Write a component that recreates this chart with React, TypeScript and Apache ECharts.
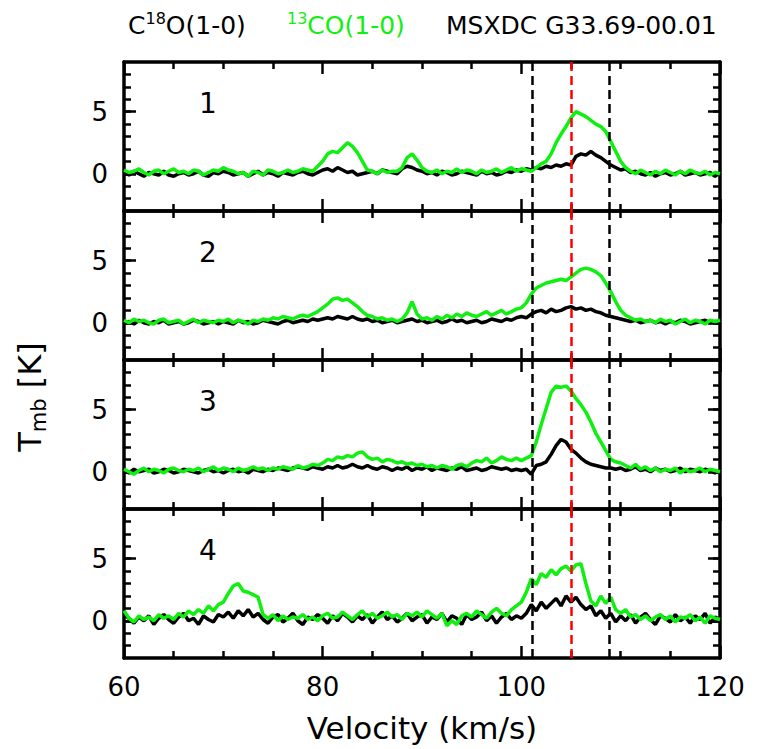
import React, { useEffect, useRef } from "react";
import * as echarts from "echarts";

// Velocity channels (km/s), 0.5 km/s spacing from 60 to 120
const velocity: number[] = [];
for (let i = 0; i <= 120; i++) velocity.push(60 + i * 0.5);

// Panel 1
const c18o1 = [
  0.1,-0.1,0.2,0.0,-0.2,0.1,0.0,-0.1,0.2,-0.1,-0.2,0.0,0.1,-0.1,0.0,0.2,-0.1,-0.2,0.1,0.0,
  0.2,0.1,-0.1,0.0,0.1,-0.2,0.0,0.2,-0.1,0.1,0.0,-0.2,0.1,0.0,-0.1,0.1,0.2,0.0,-0.1,0.1,
  0.3,0.4,0.2,0.5,0.3,0.1,0.2,-0.1,0.0,0.1,0.2,0.0,0.3,0.2,0.1,0.0,0.4,0.6,0.5,0.3,
  0.2,0.0,0.1,-0.1,0.2,0.1,-0.1,0.0,0.2,0.1,0.0,-0.1,0.2,0.0,0.1,-0.1,0.0,0.2,0.1,0.3,
  0.2,0.4,0.3,0.5,0.4,0.6,0.5,0.7,0.6,0.8,0.7,1.4,1.6,1.5,1.8,1.5,1.3,1.0,0.7,0.5,
  0.3,0.4,0.1,0.2,0.0,-0.1,0.1,-0.2,0.0,0.1,-0.1,0.0,0.2,-0.1,0.0,0.1,-0.1,0.0,0.1,-0.2,
  0.1,
];
const co1 = [
  0.3,0.1,0.2,0.4,0.1,-0.1,0.2,0.3,0.0,0.2,0.4,0.1,0.2,0.0,0.3,0.2,-0.1,0.1,0.3,0.2,
  0.5,0.3,0.2,0.0,0.1,-0.2,0.2,0.1,-0.1,0.3,0.2,0.0,0.1,0.3,0.1,0.2,0.4,0.3,0.2,0.6,
  1.0,1.6,1.8,1.7,2.1,2.5,2.2,1.7,1.0,0.3,0.2,0.0,0.3,0.1,0.2,0.2,0.5,1.3,1.6,1.1,
  0.5,0.2,0.1,0.3,0.0,0.2,0.1,0.4,0.1,0.3,0.2,0.0,0.3,0.1,0.2,0.4,0.1,0.3,0.5,0.2,
  0.4,0.3,0.2,0.5,0.8,1.0,1.6,2.5,3.2,3.8,4.5,5.0,4.8,4.6,4.3,4.0,3.8,3.4,2.6,1.8,
  1.0,0.5,0.2,0.0,0.3,0.1,-0.1,0.2,0.0,0.3,0.1,-0.1,0.2,0.0,0.3,0.1,0.0,0.2,-0.1,0.1,
  0.0,
];

// Panel 2
const c18o2 = [
  0.0,0.1,-0.1,0.2,0.0,-0.1,0.1,0.0,0.2,-0.1,0.0,0.1,-0.1,0.0,0.2,0.1,-0.1,0.0,0.1,-0.1,
  0.1,0.0,-0.1,0.2,0.0,0.1,-0.1,0.0,0.2,0.1,0.0,-0.1,0.1,0.2,0.0,0.1,0.2,0.1,0.3,0.2,
  0.3,0.4,0.3,0.5,0.4,0.3,0.5,0.3,0.2,0.3,0.1,0.2,0.0,0.1,0.2,0.0,0.1,0.2,0.3,0.1,
  0.2,0.0,0.1,0.2,0.0,0.1,0.3,0.1,0.2,0.0,0.1,0.2,0.0,0.1,0.3,0.2,0.1,0.3,0.2,0.4,
  0.5,0.4,0.7,0.9,1.0,0.8,1.1,0.9,1.0,1.2,1.3,1.1,1.2,1.0,1.1,0.9,0.8,0.6,0.5,0.4,
  0.3,0.2,0.1,0.2,0.0,0.1,0.2,0.0,0.1,-0.1,0.1,0.0,0.2,0.1,-0.1,0.0,0.1,0.2,0.0,0.1,
  0.0,
];
const co2 = [
  0.2,0.0,0.3,0.1,0.2,0.0,-0.1,0.2,0.3,0.0,0.1,0.2,-0.1,0.1,0.3,0.0,0.2,0.1,0.0,0.2,
  0.1,0.3,0.0,0.2,0.1,-0.1,0.2,0.1,0.3,0.2,0.4,0.3,0.5,0.4,0.3,0.5,0.6,0.5,0.7,0.9,
  1.2,1.5,1.9,2.0,1.8,1.9,1.6,1.3,0.9,0.6,0.5,0.3,0.4,0.2,0.3,0.1,0.3,0.8,1.7,0.7,
  0.3,0.4,0.2,0.5,0.3,0.6,0.4,0.7,0.5,0.8,0.6,0.5,0.7,0.9,0.6,0.8,1.0,0.7,0.9,1.1,
  1.2,1.6,2.3,2.8,3.0,3.2,3.3,3.4,3.5,3.4,3.7,4.0,4.3,4.4,4.3,4.1,3.8,3.2,2.5,1.7,
  1.0,0.6,0.4,0.2,0.3,0.1,0.2,0.0,0.3,0.1,0.2,-0.1,0.1,0.3,0.0,0.2,0.1,-0.1,0.2,0.1,
  0.2,
];

// Panel 3
const c18o3 = [
  0.1,-0.1,0.2,0.0,0.1,0.2,-0.1,0.0,0.2,0.1,-0.1,0.0,0.2,0.1,0.0,-0.1,0.1,0.2,0.0,0.1,
  -0.1,0.1,0.2,0.0,0.1,-0.1,0.2,0.1,0.0,0.2,0.1,0.3,0.2,0.1,0.3,0.4,0.3,0.2,0.4,0.3,
  0.2,0.4,0.3,0.5,0.3,0.4,0.6,0.4,0.3,0.5,0.3,0.2,0.4,0.3,0.1,0.3,0.2,0.4,0.1,0.3,
  0.2,0.4,0.1,0.3,0.2,0.1,0.3,0.2,0.4,0.1,0.2,0.3,0.1,0.2,0.4,0.3,0.2,0.3,0.1,0.2,
  0.1,0.2,-0.2,0.5,0.6,0.8,1.4,2.1,2.6,2.4,1.8,1.5,1.1,0.8,0.6,0.5,0.4,0.3,0.3,0.2,
  0.3,0.1,0.2,0.4,0.1,0.2,0.0,0.3,0.1,0.2,0.0,0.1,0.3,0.0,0.2,0.1,0.0,0.2,0.1,-0.1,
  0.1,
];
const co3 = [
  0.2,0.0,-0.2,0.1,0.3,0.0,0.2,0.1,-0.1,0.2,0.3,0.1,0.0,0.2,0.1,0.3,0.0,0.2,0.4,0.1,
  0.3,0.2,0.0,0.3,0.1,0.2,0.4,0.2,0.3,0.1,0.3,0.2,0.4,0.3,0.2,0.5,0.3,0.4,0.6,0.5,
  0.7,1.0,0.9,1.2,1.1,1.3,1.2,1.5,1.6,1.2,1.0,1.1,0.8,1.0,0.9,0.7,0.8,0.6,0.7,0.5,
  0.6,0.4,0.5,0.3,0.5,0.4,0.2,0.5,0.6,0.4,0.7,0.9,0.8,1.1,0.7,0.9,1.2,1.0,0.9,1.1,
  0.9,1.1,1.3,2.4,3.8,5.1,6.4,6.9,6.8,6.9,6.5,5.9,5.4,4.8,4.0,3.1,2.4,1.7,1.0,0.8,
  0.7,0.5,0.3,0.6,0.2,0.4,0.1,0.3,0.0,0.2,0.1,0.3,-0.1,0.2,0.0,0.1,0.3,0.0,0.2,0.1,
  0.0,
];

// Panel 4
const c18o4 = [
  0.5,0.2,-0.2,0.3,0.0,0.4,-0.3,0.2,0.5,0.1,-0.2,0.3,0.6,0.0,0.2,-0.3,0.4,0.1,-0.1,0.5,
  0.3,0.7,0.2,0.8,0.4,0.9,0.3,0.6,0.1,-0.2,0.3,0.5,-0.1,0.2,0.6,0.0,-0.3,0.3,0.1,0.5,
  0.2,-0.2,0.4,0.0,0.6,0.3,-0.1,0.4,0.1,0.5,-0.2,0.3,0.7,0.1,0.4,-0.1,0.2,0.6,0.0,0.3,
  0.5,-0.2,0.3,0.1,0.6,-0.1,0.4,0.2,-0.3,0.5,0.1,0.3,0.7,0.0,0.4,-0.2,0.3,0.6,0.1,0.4,
  0.2,0.6,1.3,0.8,1.5,1.0,1.4,1.8,1.2,2.0,1.5,1.9,1.3,0.9,1.2,0.4,0.8,0.2,0.6,-0.1,
  0.4,0.0,0.5,-0.2,0.3,0.6,0.1,-0.3,0.4,0.2,-0.1,0.5,0.0,0.3,-0.2,0.4,0.1,0.6,-0.2,0.3,
  0.1,
];
const co4 = [
  0.8,0.2,-0.1,0.4,0.1,0.3,0.0,0.5,0.2,0.4,0.1,0.6,0.3,0.8,0.5,0.9,0.6,1.2,0.8,1.3,
  1.5,2.2,2.8,3.0,2.4,2.3,2.1,1.9,0.5,0.2,0.5,0.0,0.4,0.1,0.3,0.2,0.5,0.1,0.3,0.0,
  0.4,0.6,0.2,0.3,0.7,0.4,0.1,0.5,0.8,0.3,0.6,0.2,0.4,0.7,0.3,0.5,0.1,0.6,0.4,0.7,
  0.3,0.8,0.5,0.2,0.6,-0.4,0.0,-0.3,0.4,0.6,0.3,0.8,0.5,0.2,0.7,1.0,0.6,0.4,0.9,1.2,
  1.5,2.3,3.4,2.9,3.8,3.5,4.1,3.7,4.2,4.4,4.0,4.5,4.6,3.0,1.6,1.2,2.0,1.4,1.9,0.9,
  0.6,0.9,0.3,0.5,0.1,0.4,0.0,0.3,0.5,0.1,0.4,-0.1,0.3,0.2,0.5,0.0,0.3,-0.2,0.4,0.2,
  0.1,
];

const c18oSeries = [c18o1, c18o2, c18o3, c18o4];
const coSeries = [co1, co2, co3, co4];
const panelLabels = ["1", "2", "3", "4"];

// Velocity markers (km/s)
const vLow = 101.1;
const vCenter = 105.0;
const vHigh = 108.9;

// Axis settings
const xMin = 60;
const xMax = 120;
const xLabelValues = [60, 80, 100, 120];
const yMin = -3;
const yMax = 9;
const yMinorTicks = [-2, -1, 0, 1, 2, 3, 4, 5, 6, 7, 8];
const yMajorTicks = [0, 5];

const FONT = "'DejaVu Sans', sans-serif";
const GREEN = "#10f010";

export default function App() {
  const ref = useRef<HTMLDivElement>(null);

  useEffect(() => {
    if (!ref.current) return;
    const chart = echarts.init(ref.current, null, { renderer: "svg" });

    const LEFT = 124;
    const WIDTH = 596;
    const TOP = 62;
    const H = 149;

    const grids: any[] = [];
    const xAxes: any[] = [];
    const yAxes: any[] = [];
    const series: any[] = [];
    const axisLine = { show: true, onZero: false, lineStyle: { color: "#000", width: 3.5 } };
    const tickLine = { color: "#000", width: 2.5 };

    for (let p = 0; p < 4; p++) {
      grids.push({
        left: LEFT,
        width: WIDTH,
        top: TOP + H * p,
        height: H,
        containLabel: false,
        outerBoundsMode: "none",
      });
      for (const pos of ["bottom", "top"]) {
        const isLabelled = pos === "bottom" && p === 3;
        xAxes.push({
          gridIndex: p,
          type: "value",
          position: pos,
          min: xMin,
          max: xMax,
          interval: 20,
          axisLine,
          axisTick: { show: true, inside: true, length: 12, lineStyle: tickLine },
          minorTick: { show: true, splitNumber: 4, length: 7, lineStyle: tickLine },
          splitLine: { show: false },
          minorSplitLine: { show: false },
          axisLabel: {
            show: isLabelled,
            customValues: xLabelValues,
            color: "#000",
            fontFamily: FONT,
            fontSize: 26,
            margin: 16,
          },
          name: isLabelled ? "Velocity (km/s)" : "",
          nameLocation: "middle",
          nameGap: 54,
          nameTextStyle: { color: "#000", fontFamily: FONT, fontSize: 31 },
        });
      }
      for (const pos of ["left", "right"]) {
        yAxes.push({
          gridIndex: p,
          type: "value",
          position: pos,
          min: yMin,
          max: yMax,
          axisLine,
          axisTick: { show: true, inside: true, length: 7, customValues: yMinorTicks, lineStyle: tickLine },
          axisLabel: {
            show: pos === "left",
            customValues: yMajorTicks,
            color: "#000",
            fontFamily: FONT,
            fontSize: 26,
            margin: 16,
          },
          splitLine: { show: false },
        });
        yAxes.push({
          gridIndex: p,
          type: "value",
          position: pos,
          min: yMin,
          max: yMax,
          axisLine: { show: false },
          axisTick: { show: true, inside: true, length: 12, customValues: yMajorTicks, lineStyle: tickLine },
          axisLabel: { show: false },
          splitLine: { show: false },
        });
      }

      const xi = p * 2;
      const yi = p * 4;
      series.push({
        type: "line",
        xAxisIndex: xi,
        yAxisIndex: yi,
        data: velocity.map((v, i) => [v, c18oSeries[p][i]]),
        showSymbol: false,
        symbol: "none",
        lineStyle: { color: "#000", width: 3.5 },
        z: 2,
      });
      series.push({
        type: "line",
        xAxisIndex: xi,
        yAxisIndex: yi,
        data: velocity.map((v, i) => [v, coSeries[p][i]]),
        showSymbol: false,
        symbol: "none",
        lineStyle: { color: GREEN, width: 3.5 },
        z: 3,
        markLine: {
          silent: true,
          symbol: "none",
          label: { show: false },
          lineStyle: { type: [9, 5], width: 2.5 },
          data: [
            { xAxis: vLow, lineStyle: { color: "#000", type: [9, 5], width: 2.5 } },
            { xAxis: vCenter, lineStyle: { color: "#ff0000", type: [9, 5], width: 2.5 } },
            { xAxis: vHigh, lineStyle: { color: "#000", type: [9, 5], width: 2.5 } },
          ],
        },
      });
    }

    const titleRich = {
      a: { fill: "#000", color: "#000", fontFamily: FONT, fontSize: 25, lineHeight: 30 },
      s: { fill: "#000", color: "#000", fontFamily: FONT, fontSize: 16, verticalAlign: "top" },
      g: { fill: GREEN, color: GREEN, fontFamily: FONT, fontSize: 25, lineHeight: 30 },
      gs: { fill: GREEN, color: GREEN, fontFamily: FONT, fontSize: 16, verticalAlign: "top" },
    };

    const graphic: any[] = [
      { type: "text", x: 128, y: 10, style: { text: "{a|C}{s|18}{a|O(1-0)}", rich: titleRich } },
      { type: "text", x: 287, y: 10, style: { text: "{gs|13}{g|CO(1-0)}", rich: titleRich } },
      { type: "text", x: 446, y: 10, style: { text: "{a|MSXDC G33.69-00.01}", rich: titleRich } },
      {
        type: "text",
        x: 30,
        y: 397,
        rotation: Math.PI / 2,
        style: {
          text: "{t|T}{b|mb}{t| [K]}",
          align: "center",
          verticalAlign: "middle",
          rich: {
            t: { fill: "#000", color: "#000", fontFamily: FONT, fontSize: 32, lineHeight: 38 },
            b: { fill: "#000", color: "#000", fontFamily: FONT, fontSize: 21, verticalAlign: "bottom" },
          },
        },
      },
    ];
    panelLabels.forEach((t, p) => {
      graphic.push({
        type: "text",
        x: 208,
        y: TOP + H * p + 41,
        style: {
          text: t,
          fill: "#000",
          fontFamily: FONT,
          fontSize: 28,
          align: "center",
          verticalAlign: "middle",
        },
      });
    });

    chart.setOption({
      animation: false,
      backgroundColor: "#fff",
      grid: grids,
      xAxis: xAxes,
      yAxis: yAxes,
      series,
      graphic,
    });

    return () => chart.dispose();
  }, []);

  return (
    <div
      ref={ref}
      style={{ position: "absolute", left: 0, top: 0, width: 771, height: 749 }}
    />
  );
}
